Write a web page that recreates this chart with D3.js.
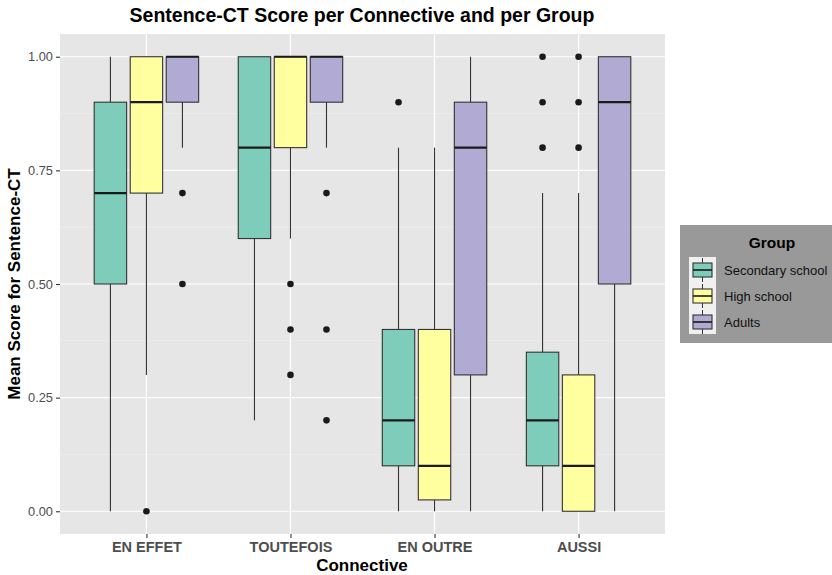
<!DOCTYPE html>
<html>
<head>
<meta charset="utf-8">
<script src="https://cdn.jsdelivr.net/npm/d3@7"></script>
<style>
  html, body { margin: 0; padding: 0; background: #ffffff; }
  svg { display: block; font-family: "Liberation Sans", Arial, sans-serif; }
</style>
</head>
<body>
<svg id="chart" width="832" height="575"></svg>
<script>
// Connectives on the x axis and the three participant groups
const connectives = ["EN EFFET", "TOUTEFOIS", "EN OUTRE", "AUSSI"];
const groups = ["Secondary school", "High school", "Adults"];
const groupColors = ["#7ecdbb", "#ffffa0", "#b1aad3"];
const yTicks = [0, 0.25, 0.5, 0.75, 1];

// Box statistics, one row per connective, one value per group
const lowerWhisker = [[0, 0.3, 0.8], [0.2, 0.6, 0.8], [0, 0, 0], [0, 0, 0]];
const lowerHinge   = [[0.5, 0.7, 0.9], [0.6, 0.8, 0.9], [0.1, 0.025, 0.3], [0.1, 0, 0.5]];
const medians      = [[0.7, 0.9, 1.0], [0.8, 1.0, 1.0], [0.2, 0.1, 0.8], [0.2, 0.1, 0.9]];
const upperHinge   = [[0.9, 1, 1], [1, 1, 1], [0.4, 0.4, 0.9], [0.35, 0.3, 1]];
const upperWhisker = [[1, 1, 1], [1, 1, 1], [0.8, 0.8, 1], [0.7, 0.7, 1]];
const outliers = [
  [[], [0], [0.7, 0.5]],
  [[], [0.5, 0.4, 0.3], [0.7, 0.4, 0.2]],
  [[0.9], [], []],
  [[1, 0.9, 0.8], [1, 0.9, 0.8], []]
];

const svg = d3.select("#chart");
const panel = { left: 60, right: 665, top: 34, bottom: 534 };

const y = d3.scaleLinear().domain([-0.05, 1.05]).range([panel.bottom, panel.top]);
const x = d3.scalePoint().domain(connectives).range([panel.left, panel.right]).padding(0.6);
const dodge = d3.scaleBand().domain(groups)
  .range([-0.375 * x.step(), 0.375 * x.step()])
  .paddingInner(0.1).paddingOuter(0.05);

// Panel background and grid
svg.append("rect")
  .attr("x", panel.left).attr("y", panel.top)
  .attr("width", panel.right - panel.left).attr("height", panel.bottom - panel.top)
  .attr("fill", "#e6e6e6");

const minor = [0.125, 0.375, 0.625, 0.875];
svg.append("g").selectAll("line").data(minor).join("line")
  .attr("x1", panel.left).attr("x2", panel.right)
  .attr("y1", d => y(d)).attr("y2", d => y(d))
  .attr("stroke", "#f2f2f2").attr("stroke-width", 0.6);
svg.append("g").selectAll("line").data(yTicks).join("line")
  .attr("x1", panel.left).attr("x2", panel.right)
  .attr("y1", d => y(d)).attr("y2", d => y(d))
  .attr("stroke", "#ffffff").attr("stroke-width", 1.2);
svg.append("g").selectAll("line").data(connectives).join("line")
  .attr("x1", d => x(d)).attr("x2", d => x(d))
  .attr("y1", panel.top).attr("y2", panel.bottom)
  .attr("stroke", "#ffffff").attr("stroke-width", 1.2);

// Boxes
const boxes = [];
connectives.forEach((c, i) => {
  groups.forEach((g, j) => {
    boxes.push({
      c, g, j,
      lw: lowerWhisker[i][j], q1: lowerHinge[i][j], med: medians[i][j],
      q3: upperHinge[i][j], uw: upperWhisker[i][j], out: outliers[i][j]
    });
  });
});

const cx = d => x(d.c) + dodge(d.g) + dodge.bandwidth() / 2;
const bg = svg.append("g");
const stroke = "#333333";

// Whiskers
bg.selectAll("line.wlo").data(boxes).join("line").attr("class", "wlo")
  .attr("x1", cx).attr("x2", cx)
  .attr("y1", d => y(d.lw)).attr("y2", d => y(d.q1))
  .attr("stroke", stroke).attr("stroke-width", 1.1);
bg.selectAll("line.whi").data(boxes).join("line").attr("class", "whi")
  .attr("x1", cx).attr("x2", cx)
  .attr("y1", d => y(d.q3)).attr("y2", d => y(d.uw))
  .attr("stroke", stroke).attr("stroke-width", 1.1);

// Hinges
bg.selectAll("rect.box").data(boxes).join("rect").attr("class", "box")
  .attr("x", d => x(d.c) + dodge(d.g))
  .attr("width", dodge.bandwidth())
  .attr("y", d => y(d.q3))
  .attr("height", d => y(d.q1) - y(d.q3))
  .attr("fill", d => groupColors[d.j])
  .attr("stroke", stroke).attr("stroke-width", 1.1);

// Medians
bg.selectAll("line.med").data(boxes).join("line").attr("class", "med")
  .attr("x1", d => x(d.c) + dodge(d.g)).attr("x2", d => x(d.c) + dodge(d.g) + dodge.bandwidth())
  .attr("y1", d => y(d.med)).attr("y2", d => y(d.med))
  .attr("stroke", "#1a1a1a").attr("stroke-width", 2.2);

// Outliers
const outPts = boxes.flatMap(d => d.out.map(v => ({ x: cx(d), v })));
bg.selectAll("circle").data(outPts).join("circle")
  .attr("cx", d => d.x).attr("cy", d => y(d.v)).attr("r", 3.3)
  .attr("fill", "#1a1a1a");

// Axes
const yAxis = svg.append("g")
  .attr("transform", `translate(${panel.left},0)`)
  .call(d3.axisLeft(y).tickValues(yTicks).tickFormat(d3.format(".2f")).tickSize(4).tickPadding(3));
yAxis.select(".domain").remove();
yAxis.selectAll(".tick line").attr("stroke", "#333333").attr("stroke-width", 1.1);
yAxis.selectAll(".tick text").attr("fill", "#4d4d4d").attr("font-size", 12.8)
  .attr("font-family", "Liberation Sans, Arial, sans-serif");

const xAxis = svg.append("g")
  .attr("transform", `translate(0,${panel.bottom})`)
  .call(d3.axisBottom(x).tickSize(4).tickPadding(4));
xAxis.select(".domain").remove();
xAxis.selectAll(".tick line").attr("stroke", "#333333").attr("stroke-width", 1.1);
xAxis.selectAll(".tick text").attr("fill", "#4d4d4d").attr("font-size", 14.5)
  .attr("font-weight", "bold").attr("font-family", "Liberation Sans, Arial, sans-serif");

// Titles
svg.append("text")
  .attr("x", 362).attr("y", 22)
  .attr("text-anchor", "middle")
  .attr("font-size", 19.5).attr("font-weight", "bold").attr("fill", "#000")
  .text("Sentence-CT Score per Connective and per Group");

svg.append("text")
  .attr("x", 362).attr("y", 571)
  .attr("text-anchor", "middle")
  .attr("font-size", 17).attr("font-weight", "bold").attr("fill", "#000")
  .text("Connective");

svg.append("text")
  .attr("transform", `translate(20,${(panel.top + panel.bottom) / 2}) rotate(-90)`)
  .attr("text-anchor", "middle")
  .attr("font-size", 17).attr("font-weight", "bold").attr("fill", "#000")
  .text("Mean Score for Sentence-CT");

// Legend
const legend = svg.append("g").attr("transform", "translate(680,225)");
legend.append("rect").attr("width", 152).attr("height", 118).attr("fill", "#999999");
legend.append("text").attr("x", 92).attr("y", 23)
  .attr("text-anchor", "middle").attr("font-size", 15.5).attr("font-weight", "bold")
  .attr("fill", "#000").text("Group");
legend.append("rect").attr("x", 9).attr("y", 32).attr("width", 27).attr("height", 77)
  .attr("fill", "#f0f0f0");

groups.forEach((g, j) => {
  const row = legend.append("g").attr("transform", `translate(0,${45 + j * 26})`);
  row.append("line").attr("x1", 22.5).attr("x2", 22.5).attr("y1", -12).attr("y2", 12)
    .attr("stroke", stroke).attr("stroke-width", 1);
  row.append("rect").attr("x", 13).attr("y", -7).attr("width", 19).attr("height", 14)
    .attr("fill", groupColors[j]).attr("stroke", stroke).attr("stroke-width", 1.1);
  row.append("line").attr("x1", 13).attr("x2", 32).attr("y1", 0).attr("y2", 0)
    .attr("stroke", "#1a1a1a").attr("stroke-width", 1.6);
  row.append("text").attr("x", 44).attr("y", 4.5)
    .attr("font-size", 13).attr("fill", "#111").text(g);
});
</script>
</body>
</html>
